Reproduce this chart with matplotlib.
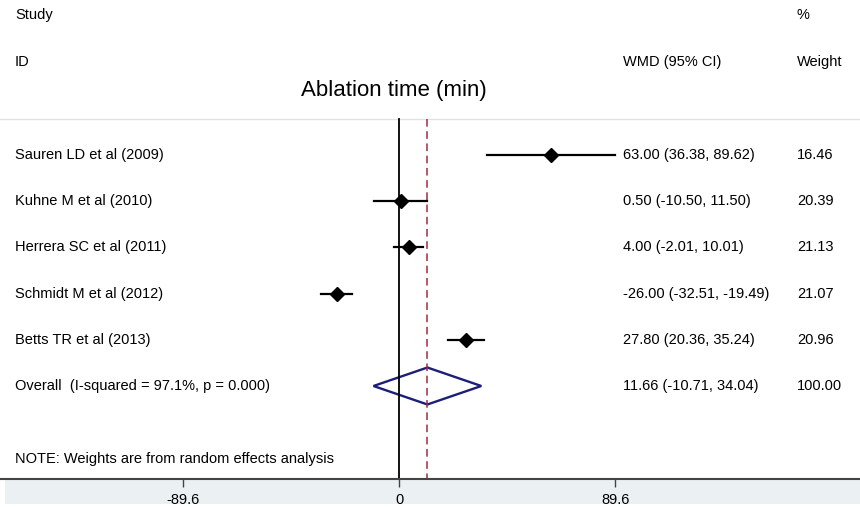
import matplotlib
matplotlib.use("Agg")
import matplotlib.pyplot as plt
from matplotlib.patches import Polygon, Rectangle

plt.rcParams["font.family"] = ["Liberation Sans", "DejaVu Sans"]

studies = [
    "Sauren LD et al (2009)",
    "Kuhne M et al (2010)",
    "Herrera SC et al (2011)",
    "Schmidt M et al (2012)",
    "Betts TR et al (2013)",
]
wmd = [63.00, 0.50, 4.00, -26.00, 27.80]
ci_low = [36.38, -10.50, -2.01, -32.51, 20.36]
ci_high = [89.62, 11.50, 10.01, -19.49, 35.24]
weights = [16.46, 20.39, 21.13, 21.07, 20.96]

overall_label = "Overall  (I-squared = 97.1%, p = 0.000)"
overall_wmd = 11.66
overall_low = -10.71
overall_high = 34.04
overall_weight = 100.00

xticks = [-89.6, 0, 89.6]

W, H = 860, 507
fig = plt.figure(figsize=(W / 100, H / 100), dpi=100)

# plot area runs from the top of the figure down to the x axis line
axis_px = 479
ax = fig.add_axes([0, (H - axis_px) / H, 1, axis_px / H])

px_per_unit = 2.409
x0_px = 399.3
ax.set_xlim(-x0_px / px_per_unit, (W - x0_px) / px_per_unit)

row_px = 46.2
first_px = 155
ax.set_ylim(1 + (axis_px - first_px) / row_px, 1 - first_px / row_px)


def row_at(px):
    return 1 + (px - first_px) / row_px


xl = -x0_px / px_per_unit
col_label = xl + 15 / px_per_unit
col_wmd = xl + 623 / px_per_unit
col_weight = xl + 797 / px_per_unit

fs = 10.5

# headers
ax.text(col_label, row_at(15), "Study", fontsize=fs, va="center")
ax.text(col_weight, row_at(15), "%", fontsize=fs, va="center")
ax.text(col_label, row_at(62), "ID", fontsize=fs, va="center")
ax.text(col_wmd, row_at(62), "WMD (95% CI)", fontsize=fs, va="center")
ax.text(col_weight, row_at(62), "Weight", fontsize=fs, va="center")
ax.text(xl + 394 / px_per_unit, row_at(91), "Ablation time (min)", fontsize=16,
        va="center", ha="center")

# separator under the headers
ax.axhline(row_at(119), color="#e2e2e2", lw=1)

top = row_at(119)
bottom = row_at(axis_px)
ax.plot([0, 0], [top, bottom], color="black", lw=1.3)
ax.plot([overall_wmd, overall_wmd], [top, bottom], color="#a32b3d", lw=1.1,
        ls=(0, (5, 3)))

rows = list(range(1, len(studies) + 1))
for r, name, m, lo, hi, w in zip(rows, studies, wmd, ci_low, ci_high, weights):
    ax.plot([lo, hi], [r, r], color="black", lw=1.6)
    ax.plot(m, r, marker="D", color="black", markersize=7)
    ax.text(col_label, r, name, fontsize=fs, va="center")
    ax.text(col_wmd, r, f"{m:.2f} ({lo:.2f}, {hi:.2f})", fontsize=fs, va="center")
    ax.text(col_weight, r, f"{w:.2f}", fontsize=fs, va="center")

# pooled estimate diamond
ro = len(studies) + 1
half = 0.4
diamond = Polygon([[overall_low, ro], [overall_wmd, ro - half],
                   [overall_high, ro], [overall_wmd, ro + half]],
                  closed=True, fill=False, edgecolor="#1c1f78", lw=1.7)
ax.add_patch(diamond)
ax.text(col_label, ro, overall_label, fontsize=fs, va="center")
ax.text(col_wmd, ro, f"{overall_wmd:.2f} ({overall_low:.2f}, {overall_high:.2f})",
        fontsize=fs, va="center")
ax.text(col_weight, ro, f"{overall_weight:.2f}", fontsize=fs, va="center")

ax.text(col_label, row_at(459), "NOTE: Weights are from random effects analysis",
        fontsize=fs, va="center")

# x axis
for s in ["top", "right", "left"]:
    ax.spines[s].set_visible(False)
ax.spines["bottom"].set_color("#444444")
ax.spines["bottom"].set_linewidth(1.5)
ax.set_yticks([])
ax.set_xticks(xticks)
ax.set_xticklabels(["-89.6", "0", "89.6"], fontsize=fs)
ax.tick_params(axis="x", length=6, width=1, color="#444444", pad=4)

# shaded band below the axis
fig.patches.append(Rectangle((5 / W, (H - 504) / H), (W - 5) / W, (504 - axis_px) / H,
                             transform=fig.transFigure, facecolor="#ebf0f3",
                             edgecolor="none", zorder=-1))

fig.savefig("out.png", dpi=100)
